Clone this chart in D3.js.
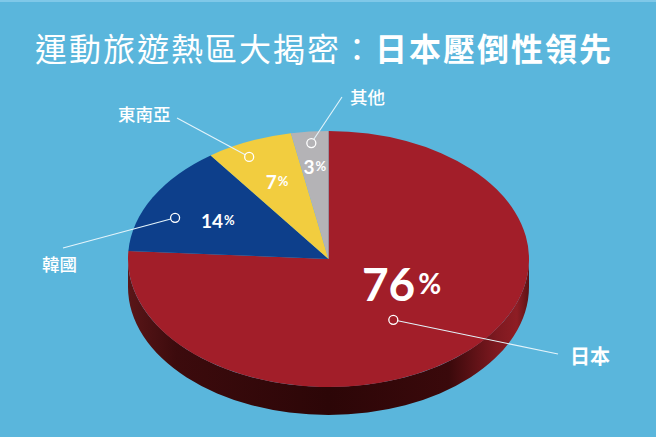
<!DOCTYPE html>
<html>
<head>
<meta charset="utf-8">
<script src="https://cdn.jsdelivr.net/npm/d3@7"></script>
<style>
  html, body { margin: 0; padding: 0; background: #5ab6dc; }
  svg { display: block; }
</style>
</head>
<body>
<div id="chart"></div>
<script>
// data
const categories = ['日本', '韓國', '東南亞', '其他'];
const shares = [76, 14, 7, 3];
const sliceColors = ['#a21e29', '#0d3f8b', '#f2cd3f', '#b4b3b6'];
const titleLight = '運動旅遊熱區大揭密：';
const titleBold = '日本壓倒性領先';

// label layout (angle offsets in degrees, radii as fraction of pie radius)
const labelLayout = [
  { pctR: 0.41, pctDa: -19.5, dotR: 0.575, dotDa: 9, end: [558, 354], text: [570, 364], anchor: 'start', size: 20, weight: 700, big: true },
  { pctR: 0.63, pctDa: 0, dotR: 0.83, dotDa: -6, end: [63, 248], text: [42, 271], anchor: 'start', size: 17.5, weight: 500 },
  { pctR: 0.66, pctDa: 0.5, dotR: 0.89, dotDa: -3, end: [177, 118], text: [118, 121], anchor: 'start', size: 17.5, weight: 500 },
  { pctR: 0.73, pctDa: 0, dotR: 0.91, dotDa: 0, end: [342, 97], text: [350, 104], anchor: 'start', size: 17.5, weight: 500 }
];

const W = 656, H = 437;
const cx = 328.5, cy = 259, rx = 200.5, ry = 128, depth = 28;

const svg = d3.select('#chart').append('svg')
    .attr('width', W).attr('height', H);

svg.append('rect').attr('width', W).attr('height', H).attr('fill', '#5ab6dc');
svg.append('rect').attr('width', W).attr('height', 2).attr('fill', '#7fc8e8');

// title
const title = svg.append('text')
    .attr('x', 35).attr('y', 61)
    .attr('fill', '#fff')
    .style('font-family', '"Noto Sans CJK TC", "Noto Sans CJK SC", sans-serif')
    .style('font-size', '32px')
    .style('letter-spacing', '2px');
title.append('tspan').style('font-weight', 400).text(titleLight);
title.append('tspan').style('font-weight', 700).text(titleBold);

// side gradient
const defs = svg.append('defs');
const grad = defs.append('linearGradient').attr('id', 'side')
    .attr('x1', '0%').attr('x2', '100%').attr('y1', '0%').attr('y2', '0%');
[['0%', '#5a1618'], ['12%', '#3c0b0d'], ['50%', '#2c0607'], ['80%', '#3a090b'], ['92%', '#7e1920'], ['97%', '#8e1d24'], ['100%', '#5c1216']]
  .forEach(s => grad.append('stop').attr('offset', s[0]).attr('stop-color', s[1]));

const k = ry / rx;
const pieG = svg.append('g').attr('transform', `translate(${cx},${cy}) scale(1,${k})`);

// side wall (scaled coordinates)
const D = depth / k;
pieG.append('path')
    .attr('d', `M${-rx},0 L${-rx},${D} A${rx},${rx} 0 0 0 ${rx},${D} L${rx},0 A${rx},${rx} 0 0 1 ${-rx},0 Z`)
    .attr('fill', 'url(#side)');

const pie = d3.pie().sort(null).value(d => d);
const arcs = pie(shares);
const arc = d3.arc().innerRadius(0).outerRadius(rx);

pieG.selectAll('path.slice')
  .data(arcs)
  .enter()
  .append('path')
    .attr('class', 'slice')
    .attr('d', arc)
    .attr('fill', (d, i) => sliceColors[i]);

// project an angle (radians, 0 at top, clockwise) + radius fraction onto the ellipse
function proj(a, f) {
  return [cx + rx * f * Math.sin(a), cy - ry * f * Math.cos(a)];
}
const rad = d => d * Math.PI / 180;

// leader lines, dots and outer labels
arcs.forEach((d, i) => {
  const L = labelLayout[i];
  const mid = (d.startAngle + d.endAngle) / 2;
  const dot = proj(mid + rad(L.dotDa), L.dotR);
  const ang = Math.atan2(L.end[1] - dot[1], L.end[0] - dot[0]);
  const r = 4.5;
  svg.append('line')
      .attr('x1', dot[0] + r * Math.cos(ang)).attr('y1', dot[1] + r * Math.sin(ang))
      .attr('x2', L.end[0]).attr('y2', L.end[1])
      .attr('stroke', '#e4f4fb').attr('stroke-width', 1.1);
  svg.append('circle')
      .attr('cx', dot[0]).attr('cy', dot[1]).attr('r', r)
      .attr('fill', 'none').attr('stroke', '#fff').attr('stroke-width', 1.3);
  svg.append('text')
      .attr('x', L.text[0]).attr('y', L.text[1])
      .attr('text-anchor', L.anchor)
      .attr('fill', '#fff')
      .style('font-family', '"Noto Sans CJK TC", sans-serif')
      .style('font-size', L.size + 'px')
      .style('font-weight', L.weight)
      .text(categories[i]);

  const p = proj(mid + rad(L.pctDa), L.pctR);
  const t = svg.append('text')
      .attr('x', p[0]).attr('y', p[1])
      .attr('text-anchor', 'middle')
      .attr('dominant-baseline', 'central')
      .attr('fill', '#fff')
      .style('font-family', 'Lato, sans-serif')
      .style('font-weight', 700);
  t.append('tspan').style('font-size', L.big ? '46px' : '19px').text(shares[i]);
  t.append('tspan').style('font-size', L.big ? '28px' : '13px').attr('dx', L.big ? 3 : 1).text('%');
});
</script>
</body>
</html>
